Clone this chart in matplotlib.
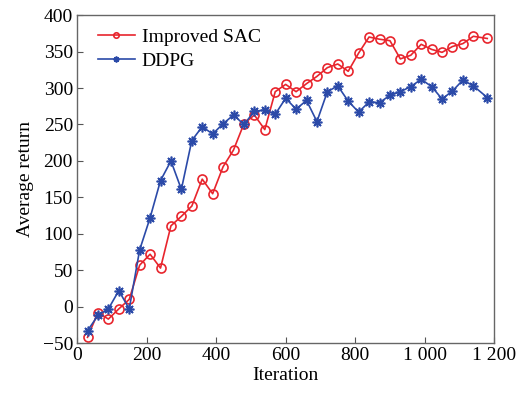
import matplotlib
matplotlib.use("Agg")
import matplotlib.pyplot as plt
from matplotlib.ticker import FuncFormatter

plt.rcParams['font.family'] = ['Liberation Serif', 'DejaVu Serif']
plt.rcParams['font.size'] = 14

# iteration positions
iters = [30, 60, 90, 120, 150, 180, 210, 240, 270, 300, 330, 360, 390,
         420, 450, 480, 510, 540, 570, 600, 630, 660, 690, 720, 750, 780,
         810, 840, 870, 900, 930, 960, 990, 1020, 1050, 1080, 1110, 1140, 1180]

sac = [-42, -8, -17, -3, 10, 57, 72, 53, 111, 124, 138, 175, 155,
       192, 215, 251, 263, 243, 295, 305, 295, 306, 316, 328, 333, 323,
       348, 370, 367, 365, 340, 345, 360, 353, 349, 357, 361, 371, 368]

ddpg = [-33, -12, -3, 22, -3, 78, 122, 173, 200, 161, 228, 247, 237,
        251, 263, 250, 268, 270, 264, 286, 271, 283, 254, 295, 303, 282,
        267, 281, 280, 290, 295, 302, 312, 302, 285, 296, 311, 303, 287]

red = '#e8252d'
blue = '#2b4aa8'

fig = plt.figure(figsize=(5.28, 3.99), dpi=100)
ax = fig.add_axes([0.146, 0.140, 0.790, 0.822])

ax.plot(iters, sac, color=red, lw=1.2, marker='o', ms=6.5, mfc='none',
        mec=red, mew=1.2, label='Improved SAC')
ax.plot(iters, ddpg, color=blue, lw=1.2, marker=(8, 2, 0), ms=7,
        mec=blue, mew=1.2, label='DDPG')

ax.set_xlim(0, 1200)
ax.set_ylim(-50, 400)
ax.set_xticks(range(0, 1201, 200))
ax.set_yticks(range(-50, 401, 50))
ax.xaxis.set_major_formatter(FuncFormatter(lambda v, p: f"{int(v):,}".replace(',', ' ')))
ax.tick_params(direction='in', length=4, width=0.8, color='#555555', labelsize=14, pad=3)
for s in ax.spines.values():
    s.set_color('#666666')
    s.set_linewidth(1.0)

ax.set_xlabel('Iteration', fontsize=14, labelpad=2)
ax.set_ylabel('Average return', fontsize=14, labelpad=6)

ax.legend(loc='upper left', bbox_to_anchor=(0.05, 0.96), frameon=False,
          fontsize=14, handlelength=1.9, borderaxespad=0, borderpad=0,
          labelspacing=0.32, handletextpad=0.36, markerscale=0.6)

fig.savefig('out.png', dpi=100)
